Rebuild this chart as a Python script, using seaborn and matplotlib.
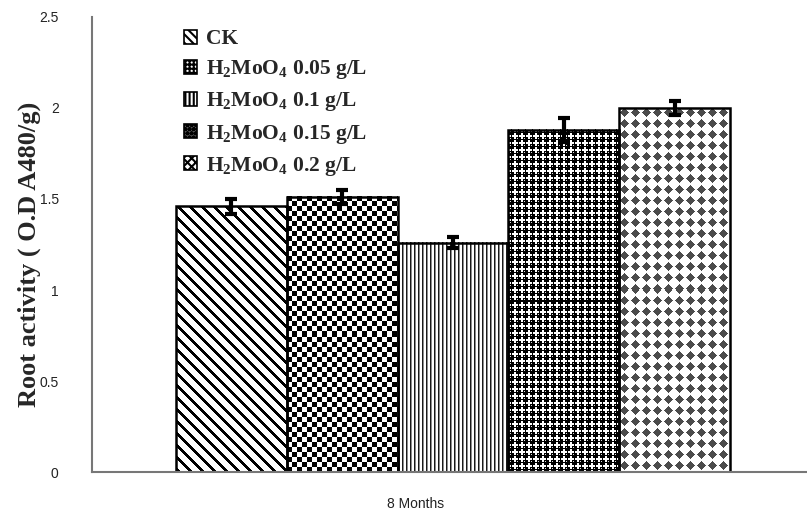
import numpy as np
import pandas as pd
import matplotlib
matplotlib.use('Agg')
import matplotlib.pyplot as plt
import matplotlib.transforms as mtrans
from matplotlib.patches import Patch
import seaborn as sns

# data
period = ['8 Months']
treatments = ['CK', 'H$_2$MoO$_4$ 0.05 g/L', 'H$_2$MoO$_4$ 0.1 g/L',
              'H$_2$MoO$_4$ 0.15 g/L', 'H$_2$MoO$_4$ 0.2 g/L']
values = [1.46, 1.51, 1.26, 1.88, 2.00]
errors = [0.04, 0.04, 0.03, 0.065, 0.04]

df = pd.DataFrame({'period': period * len(treatments),
                   'treatment': treatments,
                   'value': values})

sns.set_style('white')
plt.rcParams['font.family'] = ['Liberation Sans', 'DejaVu Sans']
plt.rcParams['mathtext.fontset'] = 'custom'
plt.rcParams['mathtext.rm'] = 'Liberation Serif:bold'
plt.rcParams['mathtext.it'] = 'Liberation Serif:bold'
plt.rcParams['mathtext.bf'] = 'Liberation Serif:bold'
plt.rcParams['hatch.linewidth'] = 1.5


def pattern(kind, h, w):
    r, c = np.mgrid[0:h, 0:w]
    img = np.ones((h, w))
    if kind == 'diag':
        img[(c - r) % 12 < 4] = 0
    elif kind == 'checker':
        img[((r // 5) + (c // 5)) % 2 == 0] = 0
    elif kind == 'vstripe':
        img[c % 4 == 0] = 0.1
        img[c % 4 == 1] = 0.55
    elif kind == 'dots':
        p = 7
        dy = (r % p) - p / 2 + 0.5
        dx = (c % p) - p / 2 + 0.5
        d = np.sqrt(dx ** 2 + dy ** 2)
        img[:] = 1.0
        img[d < 3.1] = 0.0
        img[(np.abs(dx + 1) < 0.6) & (np.abs(dy + 1) < 0.6)] = 0.85
    elif kind == 'diamond':
        p = 11
        dy = np.abs((r % p) - p / 2 + 0.5)
        dx = np.abs((c % p) - p / 2 + 0.5)
        img[dx + dy <= 4.5] = 0.3
    return img


kinds = ['diag', 'checker', 'vstripe', 'dots', 'diamond']
legend_hatch = ['\\\\\\\\', '++++', '||||', 'oooo', 'xxxx']
legend_face = ['white', 'white', 'white', '#555555', 'white']

fig = plt.figure(figsize=(8.07, 5.11), dpi=100)
ax = fig.add_axes([0.114, 0.076, 0.886, 0.891])

sns.barplot(data=df, x='period', y='value', hue='treatment', hue_order=treatments,
            width=0.775, errorbar=None, legend=False, ax=ax,
            palette=['white'] * 5, edgecolor='black', linewidth=1.8)

bars = sorted(ax.patches, key=lambda p: p.get_x())
ax.set_ylim(0, 2.5)
ax.set_xlim(-0.505, 0.495)
for patch, kind, err in zip(bars, kinds, errors):
    x0 = patch.get_x()
    x1 = x0 + patch.get_width()
    top = patch.get_height()
    (px0, py0), (px1, py1) = ax.transData.transform([(x0, 0), (x1, top)])
    w = max(int(round(px1 - px0)), 1)
    h = max(int(round(py1 - py0)), 1)
    ax.imshow(pattern(kind, h, w), extent=(x0, x1, 0, top), origin='upper',
              cmap='gray', vmin=0, vmax=1, interpolation='nearest',
              aspect='auto', zorder=1.5, clip_path=patch)
    patch.set_facecolor('none')
    patch.set_zorder(2)
    ax.errorbar(x0 + patch.get_width() / 2, top, yerr=err, fmt='none',
                ecolor='black', elinewidth=3, capsize=4, capthick=3, zorder=3)

ax.set_ylim(0, 2.5)
ax.set_xlim(-0.505, 0.495)

ax.set_yticks([0, 0.5, 1, 1.5, 2, 2.5])
ax.set_yticklabels(['0', '0.5', '1', '1.5', '2', '2.5'])
ax.tick_params(axis='y', direction='out', length=6, width=1.2, color='#777777',
               labelsize=10, labelcolor='#222222', pad=18)
ax.set_xticks([0])
ax.set_xticklabels(period)
ax.tick_params(axis='x', length=0, labelsize=10, labelcolor='#222222', pad=18)
for lab in ax.get_xticklabels():
    lab.set_transform(lab.get_transform() +
                      mtrans.ScaledTranslation(-0.38, 0, fig.dpi_scale_trans))
ax.set_xlabel('')

ax.set_ylabel('Root activity ( O.D A480/g)', family='Liberation Serif',
              fontweight='bold', fontsize=19)
ax.yaxis.set_label_coords(-0.071, 0.478)

for side in ['top', 'right']:
    ax.spines[side].set_visible(False)
for side in ['left', 'bottom']:
    ax.spines[side].set_color('#777777')
    ax.spines[side].set_linewidth(1.5)

handles = [Patch(facecolor=f, edgecolor='black', hatch=h, linewidth=1.2)
           for f, h in zip(legend_face, legend_hatch)]
ax.legend(handles, treatments, loc='upper left', bbox_to_anchor=(0.102, 1.015),
          frameon=False, handlelength=0.6, handleheight=0.6, handletextpad=0.4,
          labelspacing=0.42, prop={'family': 'Liberation Serif', 'weight': 'bold',
                                   'size': 15.5})

fig.savefig('out.png', dpi=100)
